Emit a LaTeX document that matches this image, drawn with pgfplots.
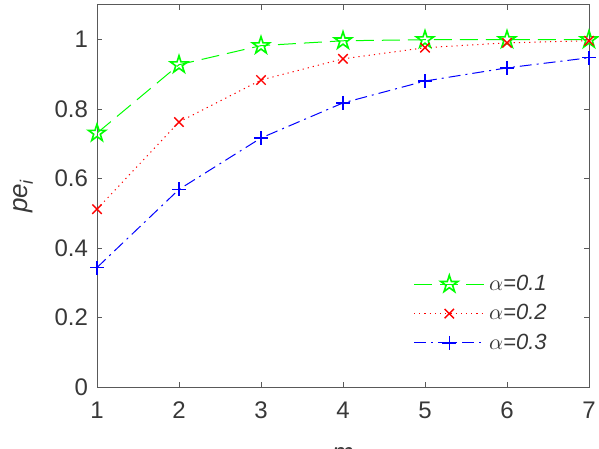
\documentclass[border=0pt]{standalone}
\usepackage{fontspec}
\setmainfont{Liberation Sans}
\usepackage{pgfplots}
\pgfplotsset{compat=1.18}
\pgfdeclareplotmark{pentagram}{%
  \pgfpathmoveto{\pgfpointpolar{90}{\pgfplotmarksize}}%
  \pgfpathlineto{\pgfpointpolar{126}{0.382\pgfplotmarksize}}%
  \pgfpathlineto{\pgfpointpolar{162}{\pgfplotmarksize}}%
  \pgfpathlineto{\pgfpointpolar{198}{0.382\pgfplotmarksize}}%
  \pgfpathlineto{\pgfpointpolar{234}{\pgfplotmarksize}}%
  \pgfpathlineto{\pgfpointpolar{270}{0.382\pgfplotmarksize}}%
  \pgfpathlineto{\pgfpointpolar{306}{\pgfplotmarksize}}%
  \pgfpathlineto{\pgfpointpolar{342}{0.382\pgfplotmarksize}}%
  \pgfpathlineto{\pgfpointpolar{18}{\pgfplotmarksize}}%
  \pgfpathlineto{\pgfpointpolar{54}{0.382\pgfplotmarksize}}%
  \pgfpathclose\pgfusepathqstroke}
\definecolor{axgray}{rgb}{0.35,0.35,0.35}
\definecolor{txgray}{rgb}{0.22,0.22,0.22}
\begin{document}
\begin{tikzpicture}
\begin{axis}[
  name=ax,
  scale only axis,
  width=246pt, height=191pt,
  xmin=1, xmax=7, ymin=0, ymax=1.1,
  xtick={1,2,3,4,5,6,7},
  ytick={0,0.2,0.4,0.6,0.8,1},
  yticklabels={0,0.2,0.4,0.6,0.8,1},
  tick align=inside,
  major tick length=2.5pt,
  axis line style={axgray, line width=0.5pt},
  every tick/.style={axgray, line width=0.5pt},
  tick label style={font=\fontsize{12}{14}\selectfont, text=txgray},
  /pgf/number format/assume math mode=true,
  xticklabel style={yshift=-4pt},
  yticklabel style={xshift=-1pt},
  xlabel={\textit{m}},
  ylabel={\textit{pe}$_{\textit{\fontsize{9}{10}\selectfont i}}$},
  every axis x label/.style={at={(axis description cs:0.5,-0.178)}, anchor=center, font=\fontsize{13}{15}\selectfont, text=txgray},
  every axis y label/.style={at={(axis description cs:-0.149,0.5)}, anchor=center, rotate=90, font=\fontsize{13}{15}\selectfont, text=txgray},
  legend style={draw=none, fill=none, at={(axis description cs:0.935,0.315)}, anchor=north east, font=\fontsize{11}{13}\selectfont, text=txgray, row sep=1.5pt},
  legend cell align=left,
  legend image code/.code={\draw[mark repeat=2, mark phase=2, #1] plot coordinates {(0cm,0cm) (0.62cm,0cm) (1.24cm,0cm)};},
]
\addplot[color={rgb,1:red,0;green,1;blue,0}, line width=0.5pt, dash pattern=on 9pt off 4pt, mark=pentagram, mark size=4.5pt, mark options={solid, line width=0.8pt}]
  coordinates {(1,0.731) (2,0.928) (3,0.983) (4,0.997) (5,1.0) (6,1.0) (7,1.0)};
\addlegendentry{$\alpha$\textit{=0.1}}
\addplot[color={rgb,1:red,1;green,0;blue,0}, line width=0.5pt, dash pattern=on 0.6pt off 2pt, mark=x, mark size=3.3pt, mark options={solid, line width=0.7pt}]
  coordinates {(1,0.512) (2,0.763) (3,0.884) (4,0.945) (5,0.977) (6,0.991) (7,0.997)};
\addlegendentry{$\alpha$\textit{=0.2}}
\addplot[color={rgb,1:red,0;green,0;blue,1}, line width=0.5pt, dash pattern=on 6pt off 2.5pt on 1pt off 2.5pt, mark=+, mark size=3.5pt, mark options={solid, line width=0.7pt}]
  coordinates {(1,0.344) (2,0.569) (3,0.717) (4,0.818) (5,0.881) (6,0.919) (7,0.948)};
\addlegendentry{$\alpha$\textit{=0.3}}
\end{axis}
\pgfresetboundingbox
\path[use as bounding box] ([xshift=-48.5pt,yshift=-30.5pt]ax.south west) rectangle ([xshift=5pt,yshift=2.5pt]ax.north east);
\end{tikzpicture}
\end{document}
